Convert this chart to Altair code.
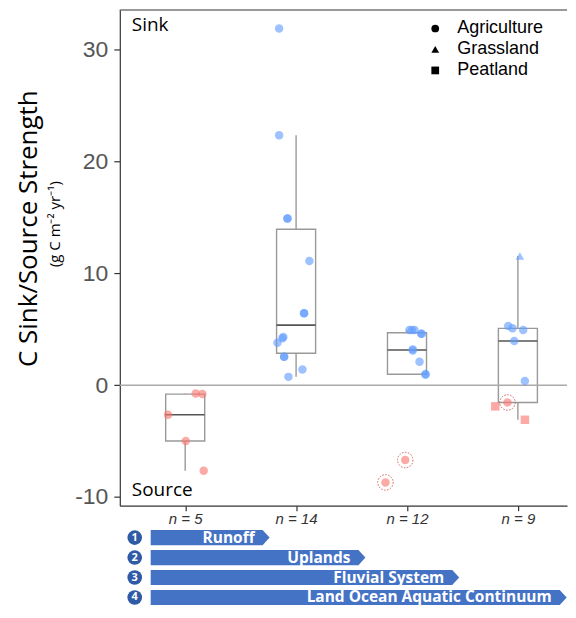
import altair as alt
import pandas as pd

# ---------------- data ----------------
categories = [1, 2, 3, 4]
n_labels = ["n = 5", "n = 14", "n = 12", "n = 9"]

cat = [1] * 5 + [2] * 14 + [3] * 12 + [4] * 9
values = [
    -0.75, -0.8, -2.65, -5.0, -7.65,
    31.9, 22.35, 14.9, 14.9, 11.1, 6.43, 6.43, 4.3, 4.2, 3.8, 2.53, 2.53, 1.4, 0.74,
    4.94, 4.94, 4.94, 4.6, 4.6, 3.2, 3.1, 2.1, 1.0, 0.92, -6.7, -8.7,
    5.3, 5.08, 4.94, 3.95, 0.38, 11.55, -1.55, -1.9, -3.1,
]
land_use = (
    ["Agriculture"] * 5
    + ["Agriculture"] * 14
    + ["Agriculture"] * 12
    + ["Agriculture"] * 5 + ["Grassland"] + ["Agriculture"] + ["Peatland"] * 2
)
jitter = [
    0.095, 0.155, -0.155, 0.005, 0.167,
    -0.153, -0.153, -0.078, -0.078, 0.12, 0.072, 0.072, -0.115, -0.123, -0.168, -0.108, -0.108, 0.057, -0.069,
    0.022, 0.068, 0.045, 0.13, 0.13, 0.052, 0.052, 0.113, 0.167, 0.167, -0.016, -0.194,
    -0.087, -0.049, 0.048, -0.033, 0.063, 0.018, -0.094, -0.204, 0.063,
]
ringed = [0] * 29 + [1, 1] + [0] * 6 + [1, 0, 0]

arrow_rows = [1, 2, 3, 4]
arrow_labels = ["Runoff", "Uplands", "Fluvial  System", "Land Ocean Aquatic Continuum"]
arrow_start = 0.689
arrow_end = [1.761, 2.625, 3.471, 4.44]

df = pd.DataFrame({"cat": cat, "value": values, "land": land_use,
                   "jit": jitter, "ring": ringed})

# arrow polygon table (body + pointed tip)
TIP = 0.063
HALF = 0.38
arrow_pts = []
for r, e in zip(arrow_rows, arrow_end):
    arrow_pts += [
        {"row": r, "x": arrow_start, "lo": r - HALF, "hi": r + HALF},
        {"row": r, "x": e - TIP, "lo": r - HALF, "hi": r + HALF},
        {"row": r, "x": e, "lo": r, "hi": r},
    ]
arrow_poly = pd.DataFrame(arrow_pts)
arrow_df = pd.DataFrame({"row": arrow_rows, "label": arrow_labels, "end": arrow_end,
                         "num": [str(r) for r in arrow_rows]})

# ---------------- scales / axes ----------------
X_DOMAIN = [0.4104, 4.4428]
Y_DOMAIN = [-10.78, 33.6]
xs = alt.Scale(domain=X_DOMAIN, nice=False, zero=False)
ys = alt.Scale(domain=Y_DOMAIN, nice=False, zero=False)
ys2 = alt.Scale(domain=[0.5, 4.5], reverse=True, nice=False, zero=False)
YT = "C Sink/Source Strength"

label_expr = " : ".join(
    f"datum.value == {c} ? '{lab}'" for c, lab in zip(categories, n_labels)
) + " : ''"

x_axis = alt.Axis(
    orient="bottom",
    values=categories,
    labelExpr=label_expr,
    grid=False, domainColor="#333333", domainWidth=1.2, tickColor="#333333",
    tickSize=5, tickWidth=1.2, labelFont="Liberation Sans", labelFontSize=15,
    labelFontStyle="italic", labelColor="#333333", labelPadding=1,
)
y_axis = alt.Axis(
    orient="left",
    values=[-10, 0, 10, 20, 30], labelExpr="'' + datum.value", grid=False,
    domainColor="#333333", domainWidth=1.2, tickColor="#333333", tickSize=6,
    tickWidth=1.2, labelFont="Liberation Sans", labelFontSize=23,
    labelColor="#555555", labelPadding=6,
    title=YT, titleFont="Open Sans", titleFontSize=26, titleFontWeight="normal",
    titleColor="black", titleAngle=270, titleX=-83, titleY=219,
    titleBaseline="alphabetic", titleAlign="center",
)


def X(field):
    return alt.X(field, type="quantitative", scale=xs, axis=x_axis, title=None)


def Y(field):
    return alt.Y(field, type="quantitative", scale=ys, axis=y_axis, title=YT)


base = alt.Chart(df)

zero_line = alt.Chart(alt.Data(values=[{"v": 0}])).mark_rule(
    color="#aaaaaa", strokeWidth=1.5
).encode(y=Y("v"))

top_border = alt.Chart(alt.Data(values=[{"v": 0}])).mark_rule(
    color="#777777", strokeWidth=1.5
).encode(x=alt.value(0), x2=alt.value(448), y=alt.value(0.5))

stats = base.transform_joinaggregate(
    q1="q1(value)", q3="q3(value)", med="median(value)", groupby=["cat"]
).transform_calculate(
    lo="datum.q1 - 1.5 * (datum.q3 - datum.q1)",
    hi="datum.q3 + 1.5 * (datum.q3 - datum.q1)",
).transform_filter(
    "datum.value >= datum.lo && datum.value <= datum.hi"
).transform_aggregate(
    wlo="min(value)", whi="max(value)", q1="min(q1)", q3="min(q3)",
    med="min(med)", groupby=["cat"],
).transform_calculate(
    xl="datum.cat - 0.176", xr="datum.cat + 0.176"
)

whisk_lo = stats.mark_rule(color="#999999", strokeWidth=1.4).encode(
    x=X("cat"), y=Y("wlo"), y2="q1:Q")
whisk_hi = stats.mark_rule(color="#999999", strokeWidth=1.4).encode(
    x=X("cat"), y=Y("q3"), y2="whi:Q")
box = stats.mark_rect(fill="transparent", stroke="#999999", strokeWidth=1.4).encode(
    x=X("xl"), x2="xr:Q", y=Y("q1"), y2="q3:Q")
median = stats.mark_rule(color="#555555", strokeWidth=1.6).encode(
    x=X("xl"), x2="xr:Q", y=Y("med"))

pts_base = base.transform_calculate(
    xj="datum.cat + datum.jit",
    side="datum.value < 0 ? 'Source' : 'Sink'",
)

points = pts_base.mark_point(filled=True, opacity=0.62, size=72, strokeWidth=0).encode(
    x=X("xj"),
    y=Y("value"),
    color=alt.Color("side:N", scale=alt.Scale(domain=["Source", "Sink"],
                                              range=["#F8766D", "#619CFF"]), legend=None),
    shape=alt.Shape(
        "land:N",
        scale=alt.Scale(domain=["Agriculture", "Grassland", "Peatland"],
                        range=["circle", "triangle-up", "square"]),
        legend=alt.Legend(
            title=None, orient="none", legendX=307, legendY=10,
            labelFont="Liberation Sans", labelFontSize=18, labelColor="black",
            symbolSize=60, symbolFillColor="black", symbolStrokeColor="black",
            symbolOpacity=1, symbolStrokeWidth=0, labelOffset=13,
            rowPadding=3, padding=0,
        ),
    ),
)

rings = pts_base.transform_filter("datum.ring == 1").mark_point(
    shape="circle", filled=False, size=240, color="#d0504a", strokeWidth=1,
    strokeDash=[1.5, 1.5], opacity=0.9,
).encode(x=X("xj"), y=Y("value"))

sink_txt = alt.Chart(alt.Data(values=[{"t": "Sink"}])).mark_text(
    align="left", baseline="middle", font="Open Sans", fontSize=19, color="black"
).encode(x=alt.value(12), y=alt.value(16), text="t:N")
source_txt = alt.Chart(alt.Data(values=[{"t": "Source"}])).mark_text(
    align="left", baseline="middle", font="Open Sans", fontSize=19, color="black"
).encode(x=alt.value(12), y=alt.value(481), text="t:N")
unit_txt = alt.Chart(alt.Data(values=[{"t": "(g C m\u207b\u00b2 yr\u207b\u00b9)"}])).mark_text(
    angle=270, align="center", baseline="alphabetic", font="Open Sans", fontSize=15,
    color="black"
).encode(x=alt.value(-60), y=alt.value(215), text="t:N")

main = alt.layer(whisk_lo, whisk_hi, box, median, zero_line, top_border,
                 points, rings, sink_txt, source_txt, unit_txt).properties(
    width=448, height=497)

# ---------------- process arrows ----------------
arrow_body = alt.Chart(arrow_poly).mark_area(
    color="#4472C4", opacity=1, orient="vertical", interpolate="linear"
).encode(
    x=alt.X("x:Q", scale=xs, axis=None),
    y=alt.Y("lo:Q", scale=ys2, axis=None),
    y2="hi:Q",
    detail="row:N",
)
arrow_base = alt.Chart(arrow_df).transform_calculate(
    tx="datum.end - 0.135", cx="0.545"
)
arrow_text = arrow_base.mark_text(
    align="right", baseline="middle", font="Open Sans", fontWeight="bold",
    fontSize=15.5, color="white"
).encode(x=alt.X("tx:Q", scale=xs, axis=None),
         y=alt.Y("row:Q", scale=ys2, axis=None), text="label:N")
num_circ = arrow_base.mark_circle(size=215, color="#2F5AA6", opacity=1).encode(
    x=alt.X("cx:Q", scale=xs, axis=None), y=alt.Y("row:Q", scale=ys2, axis=None))
num_text = arrow_base.mark_text(
    align="center", baseline="middle", font="Open Sans", fontWeight="bold",
    fontSize=11, color="white"
).encode(x=alt.X("cx:Q", scale=xs, axis=None),
         y=alt.Y("row:Q", scale=ys2, axis=None), text="num:N")

arrows = alt.layer(arrow_body, arrow_text, num_circ, num_text).properties(
    width=448, height=80)

chart = alt.vconcat(main, arrows, spacing=1).properties(
    padding={"left": 8, "top": 0, "right": 0, "bottom": 0},
    background="white",
).configure_view(strokeWidth=0, stroke="transparent")

chart.save("out.html", embed_options={"renderer": "svg", "actions": False})
